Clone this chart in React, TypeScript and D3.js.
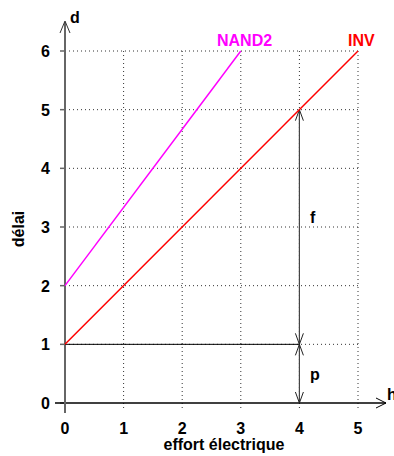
import React from "react";
import * as d3 from "d3";

// données
const effortTicks = [0, 1, 2, 3, 4, 5];
const delaiTicks = [0, 1, 2, 3, 4, 5, 6];
const invEffort = [0, 5];
const invDelai = [1, 6];
const nandEffort = [0, 3];
const nandDelai = [2, 6];
const hMarker = 4;
const pValue = 1;
const fTop = 5;

const W = 394;
const H = 456;
const font = "'Liberation Sans', Arial, Helvetica, sans-serif";

const App = () => {
  const x = d3.scaleLinear().domain([0, 5]).range([65, 358]);
  const y = d3.scaleLinear().domain([0, 6]).range([403, 51]);

  const line = d3
    .line<[number, number]>()
    .x((d) => x(d[0]))
    .y((d) => y(d[1]));

  const inv = invEffort.map((e, i) => [e, invDelai[i]] as [number, number]);
  const nand = nandEffort.map((e, i) => [e, nandDelai[i]] as [number, number]);

  const ax = x(hMarker);
  // pointe de flèche ouverte
  const head = (tx: number, ty: number, dir: number) =>
    `M${tx - 4},${ty + dir * 11}L${tx},${ty}L${tx + 4},${ty + dir * 11}`;

  return (
    <svg
      width={W}
      height={H}
      style={{ position: "absolute", left: 0, top: 0, background: "#fff" }}
      fontFamily={font}
      fontWeight="bold"
      fontSize={16}
    >
      {/* grille pointillée */}
      <g stroke="#333" strokeWidth={1} strokeDasharray="1,3">
        {delaiTicks
          .filter((t) => t > 0)
          .map((t) => (
            <line key={"h" + t} x1={x(0)} x2={x(5)} y1={y(t)} y2={y(t)} />
          ))}
        {effortTicks
          .filter((t) => t > 0)
          .map((t) => (
            <line key={"v" + t} x1={x(t)} x2={x(t)} y1={y(0) + 5} y2={y(6)} />
          ))}
      </g>

      {/* graduations y */}
      <g stroke="#666" strokeWidth={1.5}>
        {delaiTicks.map((t) => (
          <line key={t} x1={x(0) - 5} x2={x(0)} y1={y(t)} y2={y(t)} />
        ))}
      </g>
      {delaiTicks.map((t) => (
        <text key={t} x={50} y={y(t) + 6} textAnchor="end" fill="#000">
          {t}
        </text>
      ))}
      {effortTicks.map((t) => (
        <text key={t} x={x(t)} y={434} textAnchor="middle" fill="#000">
          {t}
        </text>
      ))}

      {/* axes */}
      <line x1={55} x2={386} y1={y(0)} y2={y(0)} stroke="#000" strokeWidth={1.5} />
      <path
        d={`M376,${y(0) - 5}L386,${y(0)}L376,${y(0) + 5}`}
        fill="none"
        stroke="#000"
        strokeWidth={1}
      />
      <line x1={x(0)} x2={x(0)} y1={413} y2={22} stroke="#666" strokeWidth={2} />
      <path d={`M60,33L${x(0)},21L70,33`} fill="none" stroke="#333" strokeWidth={1} />
      <text x={70} y={23} fill="#000">d</text>
      <text x={387} y={400} fill="#000">h</text>

      {/* p et f */}
      <line x1={x(0)} x2={ax} y1={y(pValue)} y2={y(pValue)} stroke="#000" strokeWidth={1} />
      <line x1={ax} x2={ax} y1={y(fTop)} y2={y(0)} stroke="#444" strokeWidth={1.2} />
      <g fill="none" stroke="#222" strokeWidth={1}>
        <path d={head(ax, y(fTop), 1)} />
        <path d={head(ax, y(pValue), -1)} />
        <path d={head(ax, y(pValue), 1)} />
        <path d={head(ax, y(0), -1)} />
      </g>
      <text x={310} y={223} fill="#000">f</text>
      <text x={310} y={380} fill="#000">p</text>

      {/* courbes */}
      <path d={line(nand) ?? ""} fill="none" stroke="#ff00ff" strokeWidth={1.5} />
      <path d={line(inv) ?? ""} fill="none" stroke="#ff0000" strokeWidth={1.5} />
      <text x={217} y={46} fill="#ff00ff">NAND2</text>
      <text x={348} y={46} fill="#ff0000">INV</text>

      {/* titres */}
      <text x={224} y={450} textAnchor="middle" fill="#000">
        effort électrique
      </text>
      <text
        transform={`translate(24,229) rotate(-90)`}
        textAnchor="middle"
        fill="#000"
      >
        délai
      </text>
    </svg>
  );
};

export default App;
